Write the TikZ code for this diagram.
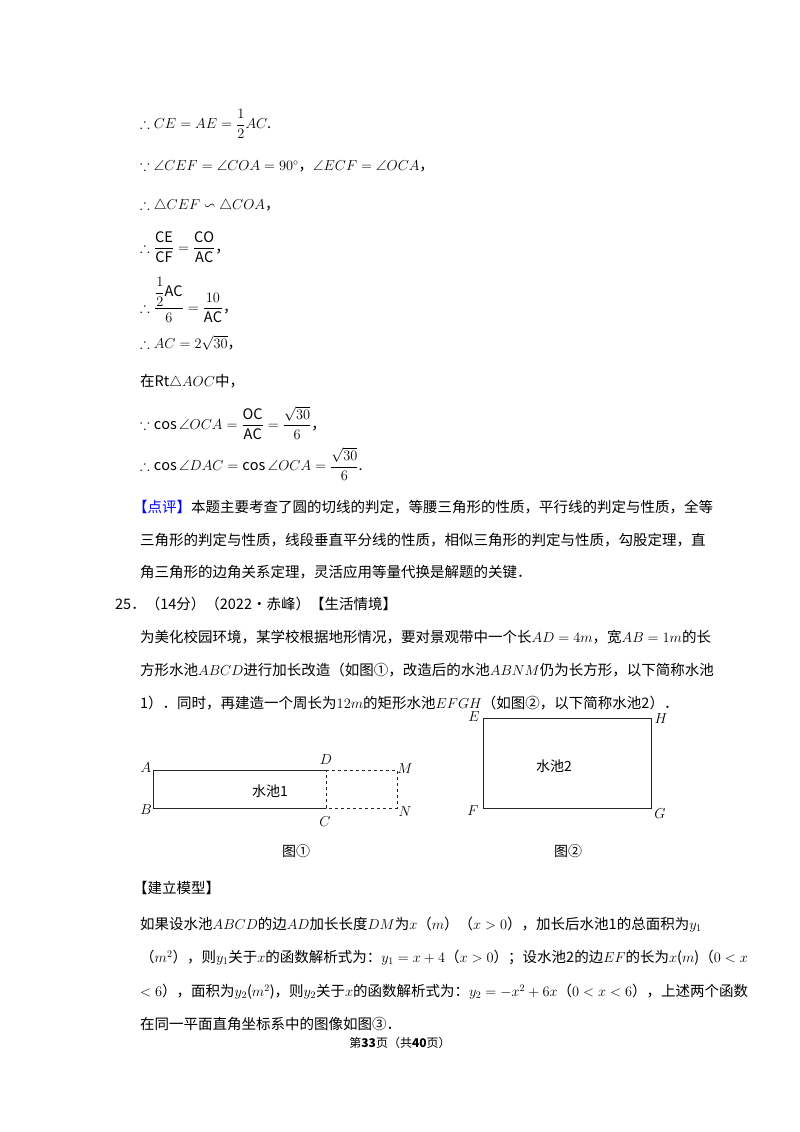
\documentclass[tikz,border=0pt]{standalone}
\usepackage{amsmath,amssymb}
\usepackage{fontspec}
\setmainfont{Noto Sans CJK SC}
\begin{document}
\begin{tikzpicture}[x=1pt,y=-1pt,
  tl/.style={anchor=west,inner sep=0pt,font=\fontsize{14.5}{16}\selectfont},
  lab/.style={inner sep=0pt,font=\fontsize{14}{16}\selectfont}]
\useasboundingbox (0,0) rectangle (800,1132);
\fill[white] (0,0) rectangle (800,1132);
\node[tl] (l1) at (140,124) {$\therefore CE=AE=\dfrac12 AC$.};
\node[tl] (l2) at (140,166) {$\because \angle CEF=\angle COA=90^\circ$，$\angle ECF=\angle OCA$，};
\node[tl] (l3) at (140,206) {$\therefore\triangle CEF\backsim\triangle COA$，};
\node[tl] (l4) at (140,247) {$\therefore \dfrac{\mathrm{CE}}{\mathrm{CF}}=\dfrac{\mathrm{CO}}{\mathrm{AC}}$，};
\node[tl] (l5) at (140,300) {$\therefore \dfrac{\dfrac12\mathrm{AC}}{6}=\dfrac{10}{\mathrm{AC}}$，};
\node[tl] (l6) at (140,343) {$\therefore AC=2\sqrt{30}$，};
\node[tl] (l7) at (140,382) {在Rt$\triangle AOC$中，};
\node[tl] (l8) at (140,423) {$\because\cos\angle OCA=\dfrac{\mathrm{OC}}{\mathrm{AC}}=\dfrac{\sqrt{30}}{6}$，};
\node[tl] (l9) at (140,464) {$\therefore\cos\angle DAC=\cos\angle OCA=\dfrac{\sqrt{30}}{6}$.};
\node[tl] (l10) at (133,507) {\textcolor{blue}{【点评】}本题主要考查了圆的切线的判定，等腰三角形的性质，平行线的判定与性质，全等};
\node[tl] (l11) at (140,540) {三角形的判定与性质，线段垂直平分线的性质，相似三角形的判定与性质，勾股定理，直};
\node[tl] (l12) at (140,572) {角三角形的边角关系定理，灵活应用等量代换是解题的关键．};
\node[tl] (l13) at (115,604) {25．（14分）（2022•赤峰）【生活情境】};
\node[tl] (l14) at (140,637) {为美化校园环境，某学校根据地形情况，要对景观带中一个长$AD=4m$，宽$AB=1m$的长};
\node[tl] (l15) at (140,670) {方形水池$ABCD$进行加长改造（如图①，改造后的水池$ABNM$仍为长方形，以下简称水池};
\node[tl] (l16) at (140,703) {1）．同时，再建造一个周长为$12m$的矩形水池$EFGH$（如图②，以下简称水池2）．};
% figure 1
\coordinate (A) at (153,770); \coordinate (B) at (153,808);
\coordinate (C) at (326,808); \coordinate (D) at (326,770);
\coordinate (M) at (397,770); \coordinate (N) at (397,808);
\draw[thick,gray!30!black] (D) -- (A) -- (B) -- (C);
\draw[thick,dashed,gray!30!black] (D) -- (M) -- (N) -- (C) -- (D);
\node[lab] (tA) at (146,768) {$A$};
\node[lab] (tB) at (146,810) {$B$};
\node[lab] (tC) at (325,822) {$C$};
\node[lab] (tD) at (326,760) {$D$};
\node[lab] (tM) at (405,769) {$M$};
\node[lab] (tN) at (405,812) {$N$};
\node[lab] (p1) at (270,791) {水池1};
% figure 2
\coordinate (E) at (483,718); \coordinate (F) at (483,808);
\coordinate (G) at (651,808); \coordinate (H) at (651,718);
\draw[thick,gray!30!black] (E) -- (F) -- (G) -- (H) -- cycle;
\node[lab] (tE) at (474,717) {$E$};
\node[lab] (tF) at (473,811) {$F$};
\node[lab] (tG) at (660,814) {$G$};
\node[lab] (tH) at (661,719) {$H$};
\node[lab] (p2) at (554,766) {水池2};
\node[lab] (c1) at (296,851) {图①};
\node[lab] (c2) at (568,851) {图②};
\node[tl] (l17) at (133,888) {【建立模型】};
\node[tl] (l18) at (140,925) {如果设水池$ABCD$的边$AD$加长长度$DM$为$x$（$m$）（$x>0$），加长后水池1的总面积为$y_1$};
\node[tl] (l19) at (140,958) {（$m^2$），则$y_1$关于$x$的函数解析式为：$y_1=x+4$（$x>0$）；设水池2的边$EF$的长为$x$($m$)（$0<x$};
\node[tl] (l20) at (140,992) {$<6$），面积为$y_2$($m^2$)，则$y_2$关于$x$的函数解析式为：$y_2=-x^2+6x$（$0<x<6$），上述两个函数};
\node[tl] (l21) at (140,1024) {在同一平面直角坐标系中的图像如图③．};
\node[lab,font=\fontsize{12}{14}\selectfont] (ft) at (400,1043) {第\textbf{33}页（共\textbf{40}页）};
\end{tikzpicture}
\end{document}
